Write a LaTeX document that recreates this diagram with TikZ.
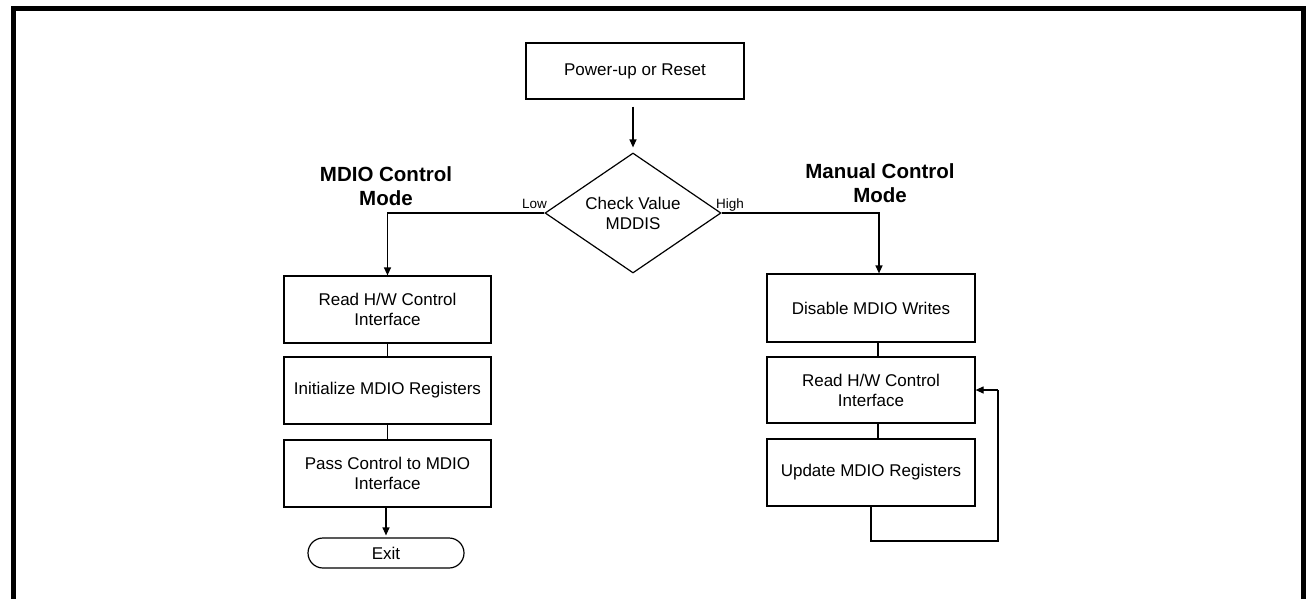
\documentclass[tikz,border=0pt]{standalone}
\usepackage{fontspec}
\setmainfont{Liberation Sans}
\usetikzlibrary{arrows.meta,shapes.geometric}
\begin{document}
\begin{tikzpicture}[x=1pt,y=-1pt,
  box/.style={draw, line width=1.2pt, minimum width=207pt, minimum height=67pt, inner sep=0pt, align=center, font=\fontsize{17}{20}\selectfont},
  dec/.style={draw, diamond, aspect=1.4667, line width=1.2pt, minimum width=176pt, minimum height=120pt, inner sep=0pt, align=center, font=\fontsize{17}{20}\selectfont},
  term/.style={draw, line width=1.2pt, rounded corners=15pt, minimum width=156pt, minimum height=30pt, inner sep=0pt, font=\fontsize{17}{20}\selectfont},
  head/.style={align=center, font=\fontsize{20.5}{24}\selectfont\bfseries},
  lbl/.style={inner sep=0pt, font=\fontsize{13.5}{16}\selectfont},
  arr/.style={line width=1.2pt, -{Triangle[length=8pt,width=7pt]}},
  ln/.style={line width=1.2pt}
]
\useasboundingbox (0,0) rectangle (1306,598);
\fill[white] (0,0) rectangle (1306,598);
\draw[line width=5pt] (13.5,600) -- (13.5,8.5) -- (1303.5,8.5) -- (1303.5,600);

% top
\node[box, minimum width=218pt, minimum height=56pt] (pwr) at (635,71) {Power-up or Reset};
\node[dec] (dia) at (633,213) {Check Value\\MDDIS};

% headings
\node[head] (hl) at (386,186.5) {MDIO Control\\Mode};
\node[head] (hr) at (880,183.5) {Manual Control\\Mode};

% labels
\node[lbl, anchor=base west] (low) at (522,208) {Low};
\node[lbl, anchor=base west] (high) at (716,208) {High};

% left column
\node[box] (rd1) at (387.5,309.5) {Read H/W Control\\Interface};
\node[box] (ini) at (387.5,390.5) {Initialize MDIO Registers};
\node[box] (pas) at (387.5,473.5) {Pass Control to MDIO\\Interface};
\node[term] (ext) at (386,553) {Exit};

% right column
\node[box, minimum width=208pt, minimum height=68pt] (dis) at (871,308) {Disable MDIO Writes};
\node[box, minimum width=208pt, minimum height=66pt] (rd2) at (871,390) {Read H/W Control\\Interface};
\node[box, minimum width=208pt, minimum height=67pt] (upd) at (871,472.5) {Update MDIO Registers};

% connectors
\draw[arr, shorten <=7pt, shorten >=5pt] (pwr.south -| dia.north) -- (dia.north);
\draw[arr] (dia.west) -| (rd1.north);
\draw[arr] (dia.east) -| ([xshift=8pt]dis.north);
\draw[ln] (rd1.south) -- (ini.north);
\draw[ln] (ini.south) -- (pas.north);
\draw[arr, shorten >=2pt] (pas.south -| ext.north) -- (ext.north);
\draw[ln] ([xshift=7pt]dis.south) -- ([xshift=7pt]rd2.north);
\draw[ln] ([xshift=7pt]rd2.south) -- ([xshift=7pt]upd.south |- upd.north);
\coordinate (lpA) at (871,541);
\coordinate (lpB) at (998,541);
\draw[ln] (upd.south) -- (lpA) -- (lpB) -- (lpB |- rd2.east);
\draw[arr] (lpB |- rd2.east) -- (rd2.east);
\end{tikzpicture}
\end{document}
